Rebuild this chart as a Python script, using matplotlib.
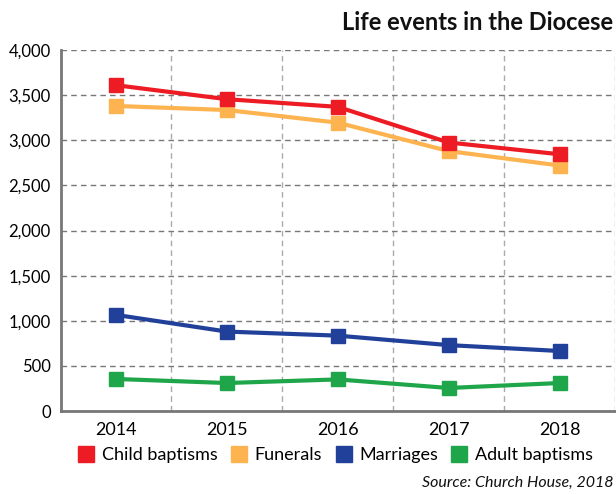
import matplotlib.pyplot as plt
from matplotlib.lines import Line2D

years = ['2014', '2015', '2016', '2017', '2018']
child_baptisms = [3610, 3455, 3370, 2975, 2845]
funerals = [3380, 3335, 3195, 2880, 2720]
marriages = [1065, 880, 835, 730, 665]
adult_baptisms = [355, 310, 350, 255, 310]

series_names = ['Child baptisms', 'Funerals', 'Marriages', 'Adult baptisms']
colors = ['#ED1C24', '#FDB450', '#21409A', '#1FA64A']

plt.rcParams['font.family'] = ['Lato', 'DejaVu Sans']

fig = plt.figure(figsize=(6.16, 4.94), dpi=100)
ax = fig.add_axes([60.5 / 616, 1 - 411 / 494, (615 - 60.5) / 616, (411 - 50) / 494])

x = list(range(len(years)))
data = [child_baptisms, funerals, marriages, adult_baptisms]
# draw bottom series first so red ends up on top
for vals, c in reversed(list(zip(data, colors))):
    ax.plot(x, vals, color=c, lw=3, marker='s', markersize=9.5, zorder=3)

ax.set_xlim(-0.5, 4.5)
ax.set_ylim(0, 4000)
ax.set_xticks(x)
ax.set_xticklabels(years, fontsize=13)
ax.set_xticks([0.5, 1.5, 2.5, 3.5, 4.5], minor=True)
ax.set_yticks(range(0, 4001, 500))
ax.set_yticklabels([f'{v:,}' for v in range(0, 4001, 500)], fontsize=12)
ax.tick_params(axis='both', which='both', length=0)
ax.tick_params(axis='y', pad=7)
ax.tick_params(axis='x', pad=8)

ax.grid(True, axis='y', which='major', ls=(0, (4, 3)), color='#777777', lw=1)
ax.grid(True, axis='x', which='minor', ls=(0, (4, 3)), color='#aaaaaa', lw=1)
ax.set_axisbelow(True)

for s in ['top', 'right']:
    ax.spines[s].set_visible(False)
for s in ['left', 'bottom']:
    ax.spines[s].set_color('#777777')
    ax.spines[s].set_linewidth(2)

fig.text(613 / 616, 1 - 22 / 494, 'Life events in the Diocese', ha='right', va='center',
         fontsize=17, fontweight='bold', color='#111111')

handles = [Line2D([], [], color=c, marker='s', ls='none', markersize=12) for c in colors]
fig.legend(handles, series_names, loc='center right', bbox_to_anchor=(600 / 616, 1 - 455 / 494),
           ncol=4, frameon=False, fontsize=13, handletextpad=0.35, columnspacing=0.7,
           handlelength=1.0, borderaxespad=0.0)

fig.text(613 / 616, 1 - 483 / 494, 'Source: Church House, 2018', ha='right', va='center',
         fontsize=11.5, style='italic', color='#111111')

fig.savefig('out.png', dpi=100)
